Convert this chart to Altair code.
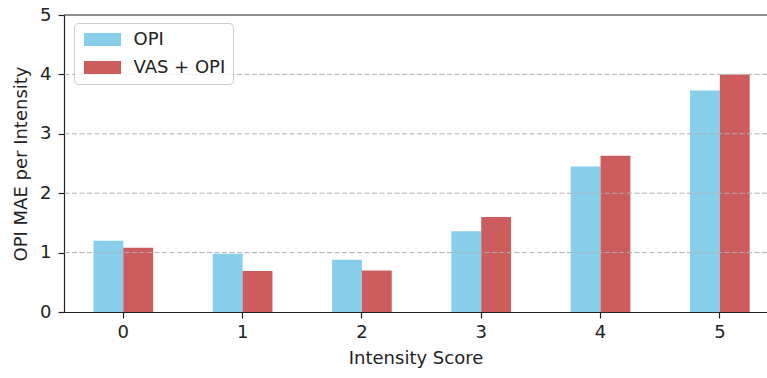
import altair as alt
import pandas as pd

# Mean absolute error of the OPI estimate at each intensity score
scores = [0, 1, 2, 3, 4, 5]
opi = [1.20, 0.98, 0.88, 1.36, 2.45, 3.73]
vas_opi = [1.08, 0.69, 0.70, 1.60, 2.63, 4.00]
series = ["OPI", "VAS + OPI"]
colors = ["#87CEEB", "#CD5C5C"]
grid_values = [1, 2, 3, 4]
y_top = 5

rows = []
for s, a, b in zip(scores, opi, vas_opi):
    rows.append({"score": s, "model": series[0], "mae": a})
    rows.append({"score": s, "model": series[1], "mae": b})
df = pd.DataFrame(rows)

FONT = "DejaVu Sans"
TXT = "#222222"

x_enc = alt.X(
    "score:O",
    title="Intensity Score",
    scale=alt.Scale(paddingInner=0.5, paddingOuter=0.196, align=0.63),
    axis=alt.Axis(labelAngle=0, tickSize=6, labelPadding=5, titlePadding=8),
)

bars = alt.Chart(df).mark_bar().encode(
    x=x_enc,
    xOffset=alt.XOffset("model:N", scale=alt.Scale(domain=series, paddingInner=0, paddingOuter=0)),
    y=alt.Y(
        "mae:Q",
        title="OPI MAE per Intensity",
        scale=alt.Scale(domain=[0, y_top], nice=False),
        axis=alt.Axis(values=[0, 1, 2, 3, 4, 5], format="d", tickSize=6, labelPadding=7,
                      titlePadding=9, grid=False),
    ),
    color=alt.Color(
        "model:N",
        scale=alt.Scale(domain=series, range=colors),
        legend=alt.Legend(
            title=None,
            orient="none",
            legendX=10,
            legendY=8,
            # wide patch drawn around a small square footprint
            symbolType="M-2.85,-1H2.85V1H-2.85Z",
            symbolSize=169,
            symbolOffset=12,
            symbolStrokeWidth=0,
            symbolOpacity=1,
            labelFontSize=18,
            labelFont=FONT,
            labelColor=TXT,
            labelOffset=22,
            rowPadding=10,
            padding=7.5,
            strokeColor="#cccccc",
            fillColor="rgba(255,255,255,0.8)",
            cornerRadius=4,
        ),
    ),
)

grid_df = pd.DataFrame({"v": grid_values})
grid = alt.Chart(grid_df).mark_rule(color="#b0b0b0", strokeWidth=1, strokeDash=[5, 2.5]).encode(
    y=alt.Y("v:Q")
)

top_df = pd.DataFrame({"v": [y_top]})
top_line = alt.Chart(top_df).mark_rule(color="#222222", strokeWidth=1.2).encode(y=alt.Y("v:Q"))

chart = (
    alt.layer(bars, grid, top_line)
    .properties(
        width=703,
        height=297,
        padding={"left": 64, "top": 15, "right": 0, "bottom": 66},
        autosize=alt.AutoSizeParams(type="none"),
        background="white",
    )
    .configure_view(stroke=None)
    .configure_axis(
        zindex=1,
        labelFont=FONT,
        titleFont=FONT,
        labelFontSize=18,
        titleFontSize=18,
        titleFontWeight="normal",
        labelColor=TXT,
        titleColor=TXT,
        domainColor="#222222",
        domainWidth=1.2,
        tickColor="#222222",
        tickWidth=1.2,
    )
)

chart.save("out.html", embed_options={"renderer": "svg", "actions": False})
